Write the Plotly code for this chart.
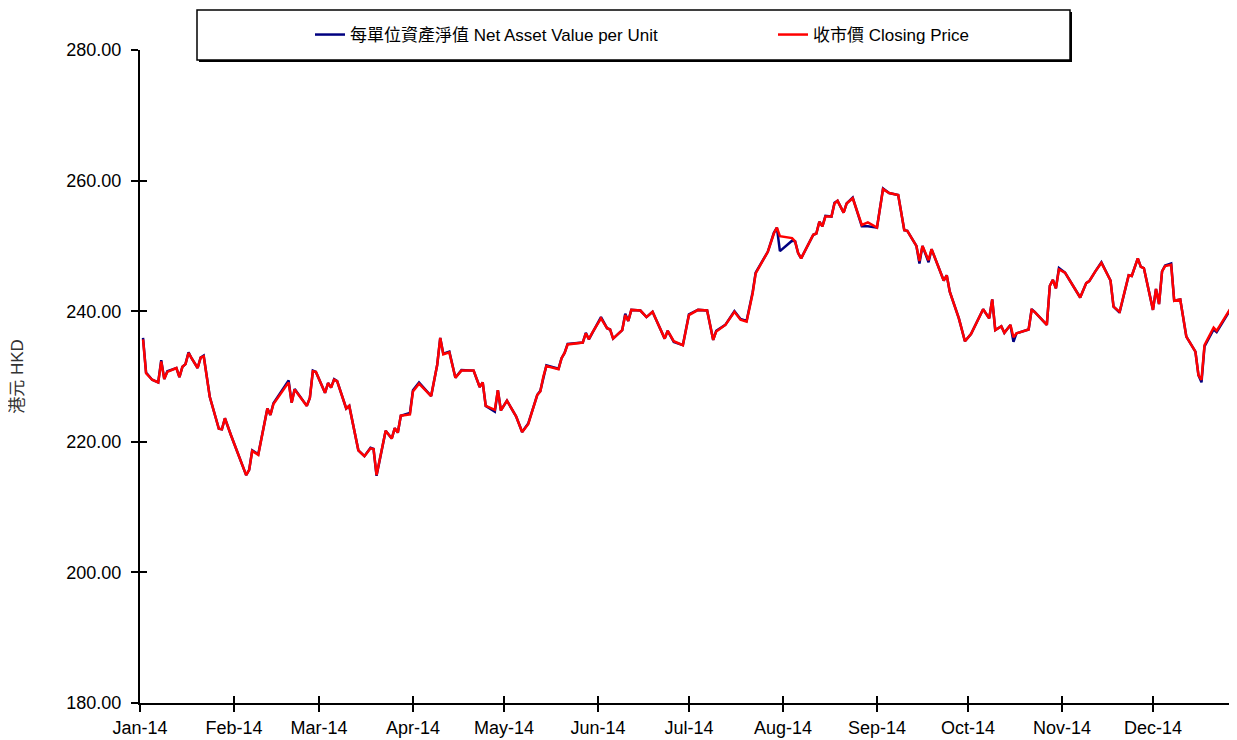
import plotly.graph_objects as go

dates = [
    "2014-01-02", "2014-01-03", "2014-01-05", "2014-01-07", "2014-01-08", "2014-01-09", "2014-01-10",
    "2014-01-13", "2014-01-14", "2014-01-15", "2014-01-16", "2014-01-17", "2014-01-18", "2014-01-20",
    "2014-01-21", "2014-01-22", "2014-01-24", "2014-01-27", "2014-01-28", "2014-01-29", "2014-01-31",
    "2014-02-05", "2014-02-06", "2014-02-07", "2014-02-09", "2014-02-12", "2014-02-13", "2014-02-14",
    "2014-02-19", "2014-02-20", "2014-02-21", "2014-02-25", "2014-02-26", "2014-02-27", "2014-02-28",
    "2014-03-03", "2014-03-04", "2014-03-05", "2014-03-06", "2014-03-07", "2014-03-10", "2014-03-11",
    "2014-03-14", "2014-03-16", "2014-03-18", "2014-03-19", "2014-03-20", "2014-03-21", "2014-03-23",
    "2014-03-25", "2014-03-26", "2014-03-27", "2014-03-28", "2014-03-31",
    "2014-04-01", "2014-04-03", "2014-04-07", "2014-04-09", "2014-04-10", "2014-04-11", "2014-04-13",
    "2014-04-15", "2014-04-17", "2014-04-21", "2014-04-23", "2014-04-24", "2014-04-25", "2014-04-28",
    "2014-04-29", "2014-04-30",
    "2014-05-02", "2014-05-05", "2014-05-07", "2014-05-09", "2014-05-12", "2014-05-13", "2014-05-14",
    "2014-05-15", "2014-05-19", "2014-05-20", "2014-05-21", "2014-05-22", "2014-05-27", "2014-05-28",
    "2014-05-29", "2014-05-30",
    "2014-06-02", "2014-06-04", "2014-06-05", "2014-06-06", "2014-06-09", "2014-06-10", "2014-06-11",
    "2014-06-12", "2014-06-15", "2014-06-17", "2014-06-19", "2014-06-23", "2014-06-24", "2014-06-26",
    "2014-06-29",
    "2014-07-01", "2014-07-04", "2014-07-07", "2014-07-09", "2014-07-10", "2014-07-13", "2014-07-16",
    "2014-07-18", "2014-07-20", "2014-07-22", "2014-07-23", "2014-07-27", "2014-07-29", "2014-07-30",
    "2014-07-31",
    "2014-08-04", "2014-08-05", "2014-08-06", "2014-08-07", "2014-08-11", "2014-08-12", "2014-08-13",
    "2014-08-14", "2014-08-15", "2014-08-17", "2014-08-18", "2014-08-19", "2014-08-21", "2014-08-22",
    "2014-08-24", "2014-08-27", "2014-08-29",
    "2014-09-01", "2014-09-03", "2014-09-05", "2014-09-08", "2014-09-10", "2014-09-11", "2014-09-14",
    "2014-09-15", "2014-09-16", "2014-09-18", "2014-09-19", "2014-09-22", "2014-09-23", "2014-09-24",
    "2014-09-25", "2014-09-28", "2014-09-30",
    "2014-10-02", "2014-10-06", "2014-10-08", "2014-10-09", "2014-10-10", "2014-10-12", "2014-10-13",
    "2014-10-15", "2014-10-16", "2014-10-17", "2014-10-21", "2014-10-22", "2014-10-23", "2014-10-27",
    "2014-10-28", "2014-10-29", "2014-10-30", "2014-10-31",
    "2014-11-02", "2014-11-05", "2014-11-07", "2014-11-09", "2014-11-10", "2014-11-12", "2014-11-14",
    "2014-11-17", "2014-11-18", "2014-11-20", "2014-11-23", "2014-11-24", "2014-11-26", "2014-11-27",
    "2014-11-28",
    "2014-12-01", "2014-12-02", "2014-12-03", "2014-12-04", "2014-12-05", "2014-12-07", "2014-12-08",
    "2014-12-10", "2014-12-12", "2014-12-15", "2014-12-16", "2014-12-17", "2014-12-18", "2014-12-21",
    "2014-12-22", "2014-12-28", "2014-12-29",
]

closing_price = [
    235.7, 230.5, 229.5, 229.1, 232.3, 229.6, 230.7, 231.3, 229.9, 231.5, 231.9, 233.6, 232.8, 231.3,
    232.9, 233.1, 226.9, 222.0, 221.9, 223.6, 221.0,
    214.9, 215.7, 218.6, 218.0, 225.1, 224.1, 225.8, 229.1, 226.0, 228.0, 225.5, 226.7, 230.8, 230.7,
    227.5, 229.0, 228.3, 229.5, 229.3, 225.1, 225.5, 218.7, 217.8, 219.0, 218.9, 214.9, 217.3, 221.7,
    220.5, 222.1, 221.4, 224.0, 224.2,
    227.7, 228.9, 227.0, 231.8, 235.9, 233.4, 233.7, 229.8, 230.9, 230.9, 228.4, 229.1, 225.5, 224.9,
    227.9, 224.8,
    226.3, 223.9, 221.5, 222.7, 227.2, 227.7, 230.0, 231.6, 231.1, 232.8, 233.6, 234.9, 235.2, 236.6,
    235.7, 236.6,
    238.9, 237.4, 237.2, 235.8, 237.1, 239.4, 238.5, 240.2, 240.1, 239.1, 239.9, 235.8, 237.0, 235.4,
    234.8,
    239.4, 240.2, 240.1, 235.6, 236.9, 237.9, 239.9, 238.7, 238.4, 242.7, 245.8, 249.1, 251.9, 252.8,
    251.5,
    251.2, 250.7, 248.9, 248.1, 251.7, 251.9, 253.7, 253.0, 254.5, 254.5, 256.5, 256.9, 255.1, 256.5,
    257.3, 253.2, 253.6,
    252.8, 258.7, 258.1, 257.8, 252.4, 252.3, 250.0, 247.7, 250.0, 247.8, 249.5, 245.8, 244.7, 245.5,
    243.0, 238.9, 235.4,
    236.5, 240.3, 238.9, 241.8, 237.1, 237.7, 236.7, 237.9, 236.0, 236.6, 237.2, 240.2, 239.9, 237.9,
    243.9, 244.8, 243.5, 246.4,
    245.9, 243.7, 242.1, 244.3, 244.6, 246.1, 247.4, 244.7, 240.7, 239.9, 245.5, 245.4, 248.1, 246.8,
    246.6,
    240.2, 243.4, 241.1, 246.1, 246.9, 247.1, 241.6, 241.8, 236.1, 233.8, 230.2, 229.5, 234.8, 237.5,
    237.0, 241.5, 239.9,
]

nav_per_unit = [
    235.9, 230.6, 229.5, 229.1, 232.5, 229.6, 230.8, 231.3, 229.9, 231.5, 231.9, 233.7, 232.8, 231.3,
    232.9, 233.2, 226.9, 222.0, 221.9, 223.6, 221.0,
    214.9, 215.7, 218.7, 218.1, 225.1, 224.1, 225.9, 229.4, 226.0, 228.1, 225.5, 226.7, 230.9, 230.7,
    227.5, 229.0, 228.3, 229.6, 229.3, 225.1, 225.5, 218.7, 217.8, 219.1, 218.9, 214.8, 217.3, 221.7,
    220.5, 222.1, 221.4, 224.0, 224.4,
    227.9, 229.1, 227.0, 231.8, 235.9, 233.5, 233.8, 229.8, 231.0, 230.9, 228.4, 229.1, 225.5, 224.6,
    227.9, 224.8,
    226.3, 223.9, 221.5, 222.8, 227.2, 227.8, 230.0, 231.7, 231.2, 232.8, 233.6, 235.0, 235.2, 236.7,
    235.7, 236.6,
    239.1, 237.4, 237.2, 235.8, 237.1, 239.6, 238.5, 240.2, 240.1, 239.1, 239.9, 235.8, 237.0, 235.3,
    234.8,
    239.5, 240.2, 240.1, 235.6, 237.0, 237.9, 240.0, 238.8, 238.5, 242.9, 245.9, 249.1, 252.0, 252.8,
    249.2,
    250.8, 250.7, 248.9, 248.1, 251.7, 251.9, 253.7, 253.0, 254.6, 254.5, 256.6, 256.9, 255.1, 256.5,
    257.4, 253.0, 253.0,
    252.8, 258.8, 258.1, 257.8, 252.4, 252.3, 250.0, 247.3, 250.0, 247.5, 249.5, 245.8, 244.7, 245.5,
    243.0, 238.9, 235.4,
    236.5, 240.3, 238.9, 241.8, 237.1, 237.7, 236.7, 237.9, 235.3, 236.6, 237.2, 240.3, 239.9, 237.9,
    243.9, 244.8, 243.5, 246.6,
    245.9, 243.7, 242.1, 244.3, 244.6, 246.1, 247.5, 244.7, 240.7, 239.8, 245.5, 245.4, 248.1, 246.8,
    246.6,
    240.2, 243.4, 241.1, 246.1, 247.0, 247.3, 241.6, 241.8, 236.1, 233.8, 230.2, 229.1, 234.6, 237.2,
    236.8, 241.4, 239.9,
]

nav_label = "每單位資產淨值 Net Asset Value per Unit"
price_label = "收市價 Closing Price"
y_title = "港元 HKD"
y_ticks = [180, 200, 220, 240, 260, 280]
x_tick_dates = ["2014-01-01", "2014-02-01", "2014-03-01", "2014-04-01", "2014-05-01", "2014-06-01",
                "2014-07-01", "2014-08-01", "2014-09-01", "2014-10-01", "2014-11-01", "2014-12-01"]
x_tick_labels = ["Jan-14", "Feb-14", "Mar-14", "Apr-14", "May-14", "Jun-14",
                 "Jul-14", "Aug-14", "Sep-14", "Oct-14", "Nov-14", "Dec-14"]

FONT = "Liberation Sans, Arial, Noto Sans CJK TC, sans-serif"
OFF = 8  # page body margin
W, H = 1237 - OFF, 740 - OFF
ML, MR, MT = 140 - OFF, 0, 50 - OFF
MB = H - (703 - OFF)
PW = W - ML - MR
PH = H - MT - MB
x_range = ["2014-01-01", "2014-12-28 17:00"]


def px_x(p):
    # p given in page pixels (as in the reference picture)
    return (p - OFF - ML) / PW


def px_y(p):
    return (H - MB - (p - OFF)) / PH


fig = go.Figure()
fig.add_trace(go.Scatter(x=dates, y=nav_per_unit, mode="lines", name=nav_label,
                         line=dict(color="#000080", width=2.5)))
fig.add_trace(go.Scatter(x=dates, y=closing_price, mode="lines", name=price_label,
                         line=dict(color="#FF0000", width=2.5)))
# empty helper trace so the inner-tick overlay axes are drawn
fig.add_trace(go.Scatter(x=[], y=[], xaxis="x2", yaxis="y2", showlegend=False, hoverinfo="skip"))

axis_common = dict(showgrid=False, zeroline=False, tickcolor="black", tickwidth=1.5, ticklen=7)

fig.update_layout(
    width=W, height=H,
    margin=dict(l=ML, r=MR, t=MT, b=MB),
    paper_bgcolor="white", plot_bgcolor="white",
    font=dict(family=FONT, color="black", size=18),
    xaxis=dict(type="date", range=x_range, tickvals=x_tick_dates, ticktext=x_tick_labels,
               ticks="outside", showline=True, linecolor="black", linewidth=2,
               tickfont=dict(size=18), ticklabelstandoff=0, **axis_common),
    yaxis=dict(range=[180, 280], tickvals=y_ticks, tickformat=".2f", ticks="outside",
               showline=True, linecolor="black", linewidth=2,
               tickfont=dict(size=18), ticklabelstandoff=6,
               title=dict(text=y_title, font=dict(size=17, color="#333333"), standoff=40),
               **axis_common),
    xaxis2=dict(type="date", range=x_range, overlaying="x", tickvals=x_tick_dates, ticks="inside",
                showticklabels=False, showline=False, **axis_common),
    yaxis2=dict(range=[180, 280], overlaying="y", tickvals=y_ticks, ticks="inside",
                showticklabels=False, showline=False, **axis_common),
    legend=dict(orientation="h", x=px_x(310), xanchor="left", y=px_y(35), yanchor="middle",
                bgcolor="rgba(0,0,0,0)", borderwidth=0, font=dict(size=17),
                entrywidth=418, entrywidthmode="pixels"),
    showlegend=True,
    shapes=[
        dict(type="rect", xref="paper", yref="paper",
             x0=px_x(199), x1=px_x(1072), y0=px_y(62), y1=px_y(12),
             fillcolor="black", line=dict(width=0), layer="below"),
        dict(type="rect", xref="paper", yref="paper",
             x0=px_x(197), x1=px_x(1070), y0=px_y(60), y1=px_y(10),
             fillcolor="white", line=dict(color="black", width=1.5), layer="below"),
    ],
)

fig.write_html("out.html")
